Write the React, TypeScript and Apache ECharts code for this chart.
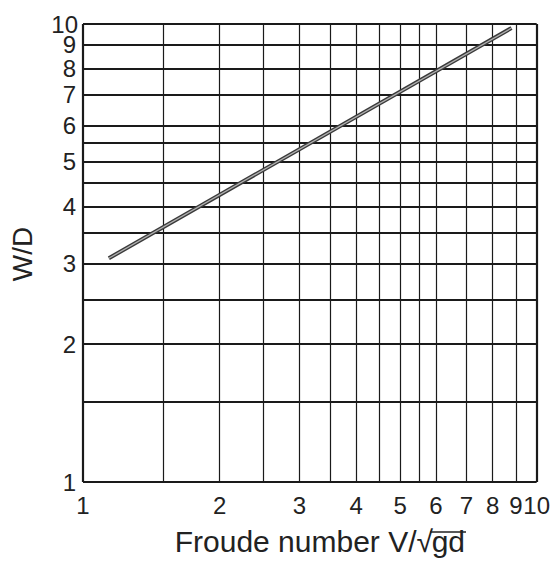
import React, { useEffect, useRef } from "react";
import * as echarts from "echarts";

// Grid values (log-log paper) for both axes
const gridValues = [1, 1.5, 2, 2.5, 3, 3.5, 4, 4.5, 5, 5.5, 6, 7, 8, 9, 10];
// Tick labels
const tickLabels = [1, 2, 3, 4, 5, 6, 7, 8, 9, 10];
// Series: Froude number vs W/D
const froude = [1.14, 8.8];
const widthRatio = [3.08, 9.8];

const FONT = "Liberation Sans, Arial, sans-serif";
const INK = "#1a1a1a";

export default function App() {
  const ref = useRef<HTMLDivElement>(null);
  useEffect(() => {
    document.body.style.margin = "0";
    if (!ref.current) return;
    const chart = echarts.init(ref.current, undefined, { renderer: "svg" });
    const pts = froude.map((x, i) => [x, widthRatio[i]]);
    const vLines = gridValues.map((v) => ({
      xAxis: v,
      lineStyle: { color: INK, width: v === 1 || v === 10 ? 2.2 : 1.2, type: "solid" },
    }));
    const hLines = gridValues.map((v) => ({
      yAxis: v,
      lineStyle: { color: INK, width: v === 1 || v === 10 ? 2.2 : 1.8, type: "solid" },
    }));
    const labelBase = {
      hideOverlap: false,
      showMinLabel: true,
      showMaxLabel: true,
      fontSize: 24,
      color: "#222",
      fontFamily: FONT,
      formatter: (v: number) => String(Math.round(v)),
    };
    const yBase = {
      type: "log",
      logBase: 10,
      min: 1,
      max: 10.001,
      position: "left",
      offset: 0,
      axisLine: { show: false },
      axisTick: { show: false },
      splitLine: { show: false },
      minorSplitLine: { show: false },
    };
    const topLabel = tickLabels[tickLabels.length - 1];
    const rest = tickLabels.filter((v) => v !== topLabel);
    const odd = rest.filter((_, i) => i % 2 === 0);
    const even = rest.filter((_, i) => i % 2 === 1);
    chart.setOption({
      animation: false,
      backgroundColor: "#ffffff",
      grid: { left: 83, top: 24, right: 15, bottom: 84, containLabel: false },
      xAxis: {
        type: "log",
        logBase: 10,
        min: 1,
        max: 10.001,
        axisLine: { show: false },
        axisTick: { show: false },
        splitLine: { show: false },
        minorSplitLine: { show: false },
        axisLabel: { ...labelBase, customValues: tickLabels, margin: 11 },
      },
      yAxis: [
        { ...yBase, axisLabel: { ...labelBase, customValues: odd, margin: 7 } },
        { ...yBase, axisLabel: { ...labelBase, customValues: even, margin: 7 } },
        {
          ...yBase,
          axisLabel: { ...labelBase, customValues: [topLabel], margin: 5, padding: [0, 0, 6, 0] },
        },
      ],
      series: [
        {
          type: "line",
          data: pts,
          symbol: "none",
          yAxisIndex: 0,
          lineStyle: { color: "#3a3a3a", width: 4 },
          z: 5,
          markLine: {
            silent: true,
            symbol: "none",
            label: { show: false },
            data: [...vLines, ...hLines],
            z: 2,
          },
        },
        {
          type: "line",
          data: pts,
          symbol: "none",
          yAxisIndex: 0,
          lineStyle: { color: "#b0b0b0", width: 1.3 },
          z: 6,
        },
      ],
      graphic: [
        {
          type: "text",
          x: 22,
          y: 254,
          rotation: Math.PI / 2,
          style: {
            text: "W/D",
            fontSize: 28,
            fontFamily: FONT,
            fill: "#222",
            textAlign: "center",
            textVerticalAlign: "middle",
          },
        },
        {
          type: "text",
          x: 433,
          y: 541,
          style: {
            text: "Froude number V/\u221A",
            fontSize: 30,
            fontFamily: FONT,
            fill: "#222",
            textAlign: "right",
            textVerticalAlign: "middle",
          },
        },
        {
          type: "text",
          x: 465,
          y: 541,
          style: {
            text: "gd",
            fontSize: 30,
            fontFamily: FONT,
            fill: "#222",
            textAlign: "right",
            textVerticalAlign: "middle",
          },
        },
        {
          type: "line",
          shape: { x1: 430, y1: 532, x2: 466, y2: 532 },
          style: { stroke: "#222", lineWidth: 1.5 },
        },
      ],
    });
    return () => chart.dispose();
  }, []);
  return <div ref={ref} style={{ width: 553, height: 566 }} />;
}
